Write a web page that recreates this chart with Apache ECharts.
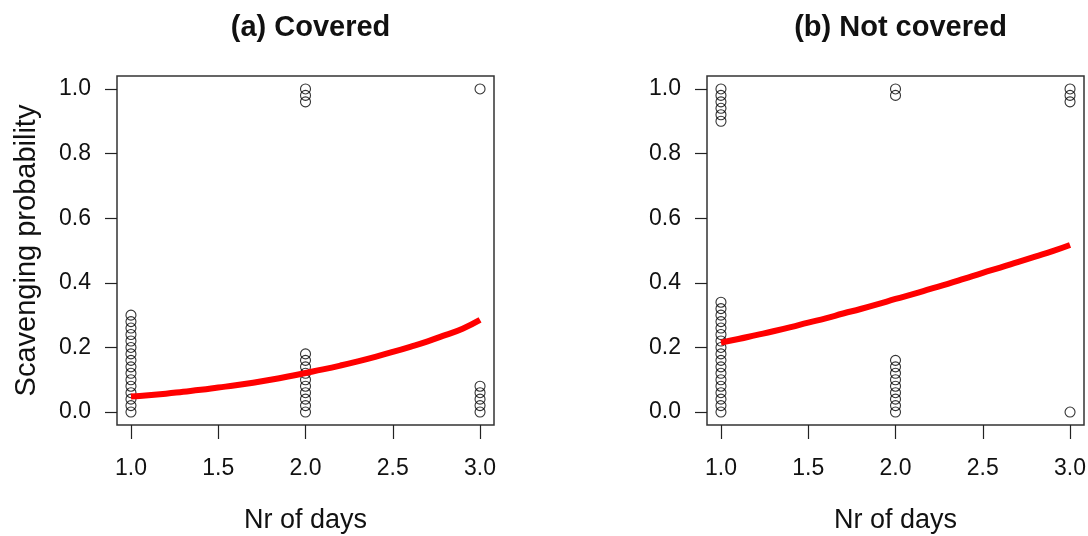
<!DOCTYPE html>
<html>
<head>
<meta charset="utf-8">
<script src="https://cdn.jsdelivr.net/npm/echarts@6/dist/echarts.min.js"></script>
<style>
html,body{margin:0;padding:0;background:#fff;}
#chart{width:1088px;height:536px;}
</style>
</head>
<body>
<div id="chart"></div>
<script>
// ---- data ----
const panelTitles = ['(a) Covered', '(b) Not covered'];
const xTickValues = [1.0, 1.5, 2.0, 2.5, 3.0];
const yTickValues = [0.0, 0.2, 0.4, 0.6, 0.8, 1.0];
const xAxisTitle = 'Nr of days';
const yAxisTitle = 'Scavenging probability';

// observed points (a) Covered
const coveredDay1 = [0.00,0.02,0.04,0.06,0.08,0.10,0.12,0.14,0.16,0.18,0.20,0.22,0.24,0.26,0.28,0.30];
const coveredDay2 = [0.00,0.02,0.04,0.06,0.08,0.10,0.12,0.14,0.16,0.18,0.96,0.98,1.00];
const coveredDay3 = [0.00,0.02,0.04,0.06,0.08,1.00];
// observed points (b) Not covered
const notCoveredDay1 = [0.00,0.02,0.04,0.06,0.08,0.10,0.12,0.14,0.16,0.18,0.20,0.22,0.24,0.26,0.28,0.30,0.32,0.34,0.90,0.92,0.94,0.96,0.98,1.00];
const notCoveredDay2 = [0.00,0.02,0.04,0.06,0.08,0.10,0.12,0.14,0.16,0.98,1.00];
const notCoveredDay3 = [0.00,0.96,0.98,1.00];

// fitted curves
const fitDays = [1.0,1.1,1.2,1.3,1.4,1.5,1.6,1.7,1.8,1.9,2.0,2.1,2.2,2.3,2.4,2.5,2.6,2.7,2.8,2.9,3.0];
const coveredFit = [0.048,0.052,0.057,0.063,0.069,0.076,0.083,0.091,0.100,0.110,0.121,0.132,0.144,0.157,0.171,0.186,0.202,0.219,0.238,0.258,0.285];
const notCoveredFit = [0.215,0.226,0.238,0.250,0.263,0.277,0.290,0.305,0.319,0.334,0.350,0.365,0.381,0.397,0.414,0.431,0.447,0.464,0.481,0.498,0.517];

// ---- build ----
function pts(day, vals){ return vals.map(v => [day, v]); }
const coveredPts = [].concat(pts(1, coveredDay1), pts(2, coveredDay2), pts(3, coveredDay3));
const notCoveredPts = [].concat(pts(1, notCoveredDay1), pts(2, notCoveredDay2), pts(3, notCoveredDay3));
const coveredLine = fitDays.map((d,i)=>[d, coveredFit[i]]);
const notCoveredLine = fitDays.map((d,i)=>[d, notCoveredFit[i]]);

const FONT = "'Liberation Sans', Arial, sans-serif";
const gridW = 377, gridH = 349, gridTop = 76;
const lefts = [117, 707];

function xAxis(i){
  return {
    type:'value', gridIndex:i, min:0.92, max:3.08, position:'bottom',
    axisLine:{show:false, onZero:false}, splitLine:{show:false},
    axisTick:{show:true, inside:false, length:14, customValues:xTickValues, lineStyle:{color:'#222', width:1.2}},
    axisLabel:{show:true, customValues:xTickValues, formatter:v=>v.toFixed(1), margin:32,
      color:'#111', fontSize:23, fontFamily:FONT},
    name:xAxisTitle, nameLocation:'middle', nameGap:82,
    nameTextStyle:{color:'#111', fontSize:27, fontFamily:FONT}
  };
}
function yAxis(i){
  const a = {
    type:'value', gridIndex:i, min:-0.04, max:1.04, position:'left',
    axisLine:{show:false, onZero:false}, splitLine:{show:false},
    axisTick:{show:true, inside:false, length:12, customValues:yTickValues, lineStyle:{color:'#222', width:1.2}},
    axisLabel:{show:true, customValues:yTickValues, formatter:v=>v.toFixed(1), margin:26,
      color:'#111', fontSize:23, fontFamily:FONT}
  };
  if(i===0){
    a.name = yAxisTitle; a.nameLocation='middle'; a.nameGap=76;
    a.nameTextStyle={color:'#111', fontSize:29, fontFamily:FONT};
  }
  return a;
}

const option = {
  backgroundColor:'#fff',
  animation:false,
  title: panelTitles.map((t,i)=>({
    text:t, left: lefts[i] + gridW/2, top:8, textAlign:'center',
    textStyle:{fontSize:29, fontWeight:'bold', color:'#111', fontFamily:FONT}
  })),
  grid: lefts.map(l=>({left:l, top:gridTop, width:gridW, height:gridH, show:true,
    containLabel:false, outerBoundsMode:'none',
    borderColor:'#333', borderWidth:1.5, backgroundColor:'transparent'})),
  xAxis:[xAxis(0), xAxis(1)],
  yAxis:[yAxis(0), yAxis(1)],
  series:[
    {type:'scatter', xAxisIndex:0, yAxisIndex:0, data:coveredPts, symbol:'circle', symbolSize:10,
      itemStyle:{color:'rgba(0,0,0,0)', borderColor:'#000', borderWidth:1.1}, z:2},
    {type:'scatter', xAxisIndex:1, yAxisIndex:1, data:notCoveredPts, symbol:'circle', symbolSize:10,
      itemStyle:{color:'rgba(0,0,0,0)', borderColor:'#000', borderWidth:1.1}, z:2},
    {type:'line', xAxisIndex:0, yAxisIndex:0, data:coveredLine, showSymbol:false, smooth:true,
      lineStyle:{color:'#ff0000', width:6}, z:3},
    {type:'line', xAxisIndex:1, yAxisIndex:1, data:notCoveredLine, showSymbol:false, smooth:true,
      lineStyle:{color:'#ff0000', width:6}, z:3}
  ]
};
const chart = echarts.init(document.getElementById('chart'), null, {renderer:'canvas'});
chart.setOption(option);
</script>
</body>
</html>
